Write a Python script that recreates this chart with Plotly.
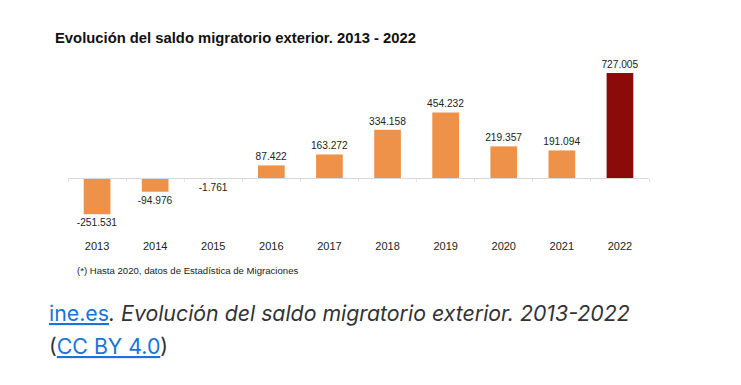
import plotly.graph_objects as go

years = ["2013", "2014", "2015", "2016", "2017", "2018", "2019", "2020", "2021", "2022"]
saldo = [-251531, -94976, -1761, 87422, 163272, 334158, 454232, 219357, 191094, 727005]
labels = ["-251.531", "-94.976", "-1.761", "87.422", "163.272", "334.158", "454.232", "219.357", "191.094", "727.005"]
colors = ["#EF9249"] * 9 + ["#8B0A0A"]

W, H = 741, 385
y_min, y_max = -360000, 852000
dom_y = [1 - 230 / H, 1 - 55 / H]
dom_x = [68 / W, 649 / W]
zero_pos = dom_y[0] + (0 - y_min) / (y_max - y_min) * (dom_y[1] - dom_y[0])

fig = go.Figure()
fig.add_trace(go.Bar(
    x=years, y=saldo, marker=dict(color=colors, line=dict(width=0)),
    text=labels, textposition="outside", cliponaxis=False, constraintext="none",
    textfont=dict(family="Liberation Sans, Arial", size=10.2, color="#222222"),
    width=0.46, hoverinfo="skip",
))
# invisible trace for zero-line axis ticks
fig.add_trace(go.Scatter(x=years, y=[0] * len(years), xaxis="x2", mode="none",
                         showlegend=False, hoverinfo="skip"))

fig.update_layout(
    width=W, height=H,
    margin=dict(l=0, r=0, t=0, b=0),
    paper_bgcolor="white", plot_bgcolor="white",
    showlegend=False,
    font=dict(family="Liberation Sans, Arial", color="#222222"),
    xaxis=dict(domain=dom_x, showgrid=False, showline=False, ticks="",
               tickfont=dict(size=11, color="#222222"), anchor="y",
               range=[-0.5, 9.5], fixedrange=True, automargin=False,
               ticklabelstandoff=8),
    xaxis2=dict(domain=dom_x, overlaying="x", anchor="free", position=zero_pos,
                range=[-0.5, 9.5], showline=True, linecolor="#d9d9d9", linewidth=1,
                ticks="outside", ticklen=3, tickcolor="#e3e3e3", tickson="boundaries",
                showticklabels=False, showgrid=False, type="category"),
    yaxis=dict(domain=dom_y, range=[y_min, y_max], visible=False, zeroline=False,
               showgrid=False, fixedrange=True),
    annotations=[
        dict(text="<b>Evolución del saldo migratorio exterior. 2013 - 2022</b>",
             x=53 / W, y=1 - 38 / H, xref="paper", yref="paper", xanchor="left", yanchor="middle",
             showarrow=False, font=dict(family="Liberation Sans, Arial", size=14.8, color="#111111")),
        dict(text="(*) Hasta 2020, datos de Estadística de Migraciones",
             x=75 / W, y=1 - 270 / H, xref="paper", yref="paper", xanchor="left", yanchor="middle",
             showarrow=False, font=dict(family="Liberation Sans, Arial", size=9.6, color="#222222")),
        dict(text="<span style='color:#1a73d9'><u>ine.es</u></span><i>. Evolución del saldo migratorio exterior. 2013-2022</i>",
             x=47 / W, y=1 - 313 / H, xref="paper", yref="paper", xanchor="left", yanchor="middle",
             showarrow=False, font=dict(family="Inter, Noto Sans", size=21.3, color="#333333")),
        dict(text="(<span style='color:#1a73d9'><u>CC BY 4.0</u></span>)",
             x=47 / W, y=1 - 346 / H, xref="paper", yref="paper", xanchor="left", yanchor="middle",
             showarrow=False, font=dict(family="Inter, Noto Sans", size=21.3, color="#333333")),
    ],
)
fig.write_html("out.html", config={"displayModeBar": False},
               post_script="document.body.style.margin='0';")
